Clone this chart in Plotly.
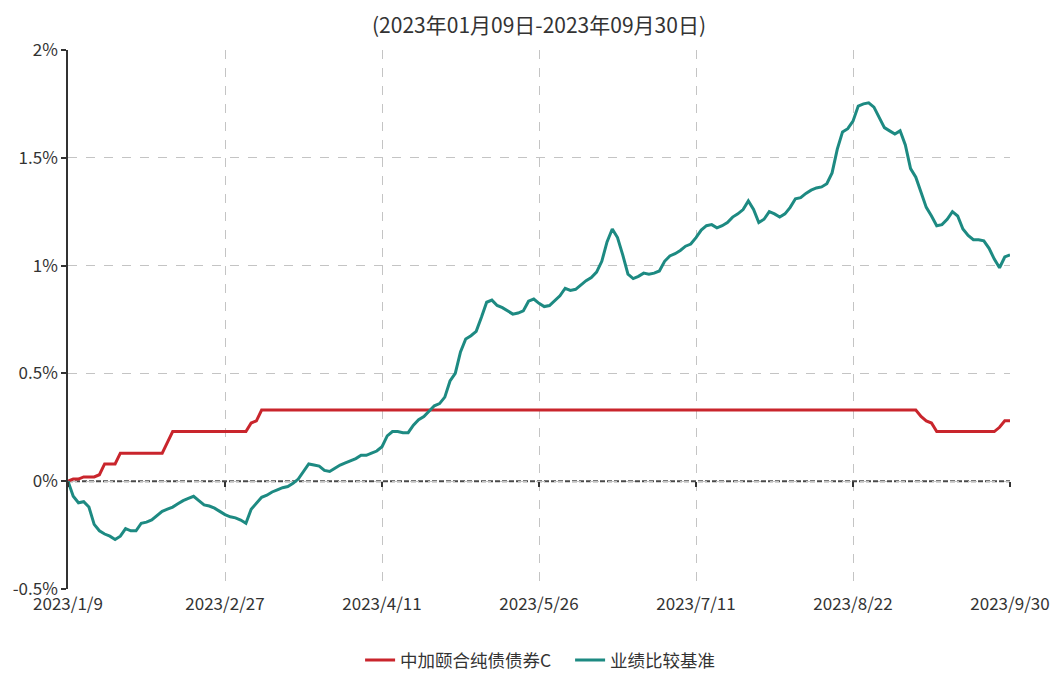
import plotly.graph_objects as go

title_text = "(2023年01月09日-2023年09月30日)"
tick_labels = ["2023/1/9", "2023/2/27", "2023/4/11", "2023/5/26", "2023/7/11", "2023/8/22", "2023/9/30"]
tick_index = [0, 30, 60, 90, 120, 150, 180]
y_ticks = [-0.5, 0, 0.5, 1, 1.5, 2]
y_tick_text = ["-0.5%", "0%", "0.5%", "1%", "1.5%", "2%"]

fund_name = "中加颐合纯债债券C"
bench_name = "业绩比较基准"

fund_values = [
    0.00, 0.01, 0.01, 0.02, 0.02, 0.02, 0.03, 0.08, 0.08, 0.08,
    0.13, 0.13, 0.13, 0.13, 0.13, 0.13, 0.13, 0.13, 0.13, 0.18,
    0.23, 0.23, 0.23, 0.23, 0.23, 0.23, 0.23, 0.23, 0.23, 0.23,
    0.23, 0.23, 0.23, 0.23, 0.23, 0.27, 0.28, 0.33, 0.33, 0.33,
    0.33, 0.33, 0.33, 0.33, 0.33, 0.33, 0.33, 0.33, 0.33, 0.33,
    0.33, 0.33, 0.33, 0.33, 0.33, 0.33, 0.33, 0.33, 0.33, 0.33,
    0.33, 0.33, 0.33, 0.33, 0.33, 0.33, 0.33, 0.33, 0.33, 0.33,
    0.33, 0.33, 0.33, 0.33, 0.33, 0.33, 0.33, 0.33, 0.33, 0.33,
    0.33, 0.33, 0.33, 0.33, 0.33, 0.33, 0.33, 0.33, 0.33, 0.33,
    0.33, 0.33, 0.33, 0.33, 0.33, 0.33, 0.33, 0.33, 0.33, 0.33,
    0.33, 0.33, 0.33, 0.33, 0.33, 0.33, 0.33, 0.33, 0.33, 0.33,
    0.33, 0.33, 0.33, 0.33, 0.33, 0.33, 0.33, 0.33, 0.33, 0.33,
    0.33, 0.33, 0.33, 0.33, 0.33, 0.33, 0.33, 0.33, 0.33, 0.33,
    0.33, 0.33, 0.33, 0.33, 0.33, 0.33, 0.33, 0.33, 0.33, 0.33,
    0.33, 0.33, 0.33, 0.33, 0.33, 0.33, 0.33, 0.33, 0.33, 0.33,
    0.33, 0.33, 0.33, 0.33, 0.33, 0.33, 0.33, 0.33, 0.33, 0.33,
    0.33, 0.33, 0.33, 0.30, 0.28, 0.27, 0.23, 0.23, 0.23, 0.23,
    0.23, 0.23, 0.23, 0.23, 0.23, 0.23, 0.23, 0.23, 0.25, 0.28,
    0.28,
]

bench_values = [
    0.00, -0.07, -0.10, -0.095, -0.12, -0.20, -0.23, -0.245, -0.255, -0.27,
    -0.255, -0.22, -0.23, -0.23, -0.195, -0.19, -0.18, -0.16, -0.14, -0.13,
    -0.12, -0.105, -0.09, -0.08, -0.07, -0.09, -0.11, -0.115, -0.125, -0.14,
    -0.155, -0.165, -0.17, -0.18, -0.195, -0.13, -0.10, -0.075, -0.065, -0.05,
    -0.04, -0.03, -0.025, -0.01, 0.01, 0.045, 0.08, 0.075, 0.07, 0.05,
    0.045, 0.06, 0.075, 0.085, 0.095, 0.105, 0.12, 0.12, 0.13, 0.14,
    0.16, 0.21, 0.23, 0.23, 0.225, 0.225, 0.26, 0.285, 0.30, 0.325,
    0.35, 0.36, 0.39, 0.465, 0.50, 0.60, 0.66, 0.675, 0.695, 0.76,
    0.83, 0.84, 0.815, 0.805, 0.79, 0.775, 0.78, 0.79, 0.835, 0.845,
    0.825, 0.81, 0.815, 0.84, 0.86, 0.895, 0.885, 0.89, 0.91, 0.93,
    0.945, 0.97, 1.02, 1.11, 1.17, 1.13, 1.05, 0.96, 0.94, 0.95,
    0.965, 0.96, 0.965, 0.975, 1.02, 1.045, 1.055, 1.07, 1.09, 1.10,
    1.13, 1.165, 1.185, 1.19, 1.175, 1.185, 1.20, 1.225, 1.24, 1.26,
    1.30, 1.26, 1.20, 1.215, 1.25, 1.24, 1.225, 1.24, 1.27, 1.31,
    1.315, 1.335, 1.35, 1.36, 1.365, 1.38, 1.43, 1.54, 1.62, 1.635,
    1.67, 1.74, 1.75, 1.755, 1.735, 1.69, 1.64, 1.625, 1.61, 1.625,
    1.56, 1.45, 1.41, 1.34, 1.27, 1.23, 1.185, 1.19, 1.215, 1.25,
    1.23, 1.17, 1.14, 1.12, 1.12, 1.115, 1.08, 1.03, 0.99, 1.04,
    1.05,
]

fund_color = "#c9252c"
bench_color = "#1d8a82"
font_family = "Noto Sans CJK SC, Noto Sans, sans-serif"
text_color = "#333333"

fig = go.Figure()
fig.add_trace(go.Scatter(
    x=list(range(len(fund_values))), y=fund_values, mode="lines", name=fund_name,
    line=dict(color=fund_color, width=3),
))
fig.add_trace(go.Scatter(
    x=list(range(len(bench_values))), y=bench_values, mode="lines", name=bench_name,
    line=dict(color=bench_color, width=3),
))
# empty helper trace so the tick-only axis on the zero line is drawn
fig.add_trace(go.Scatter(x=[], y=[], xaxis="x2", yaxis="y", showlegend=False,
                         hoverinfo="skip"))

fig.add_shape(type="line", xref="paper", x0=0, x1=1, yref="y", y0=0, y1=0,
              line=dict(color="#4a4a4a", width=2, dash="5px,2px"), layer="below")

fig.update_layout(
    width=1057, height=680,
    margin=dict(l=68, r=47, t=50, b=91, autoexpand=False),
    paper_bgcolor="white", plot_bgcolor="white",
    font=dict(family=font_family, color=text_color, size=16),
    title=dict(text=title_text, x=0.5, xref="paper", xanchor="center",
               y=0.963, yref="container", yanchor="middle",
               font=dict(size=21, color=text_color, family=font_family)),
    showlegend=True,
    legend=dict(orientation="h", x=0.533, xanchor="center", xref="paper",
                y=-0.132, yanchor="middle", font=dict(size=17.5, color=text_color),
                entrywidth=165, entrywidthmode="pixels"),
    xaxis=dict(
        range=[0, len(bench_values) - 1], tickvals=tick_index, ticktext=tick_labels,
        showgrid=True, gridcolor="#c4c4c4", griddash="dash", gridwidth=1,
        zeroline=False, showline=False, ticks="", automargin=False,
        tickfont=dict(size=17, color=text_color), ticklabelstandoff=3,
    ),
    xaxis2=dict(
        range=[0, len(bench_values) - 1], tickvals=tick_index, overlaying="x",
        anchor="free", position=0.2, showticklabels=False, showgrid=False,
        zeroline=False, showline=False, ticks="outside", ticklen=5,
        tickcolor="#333333", tickwidth=1.5, automargin=False,
    ),
    yaxis=dict(
        range=[-0.5, 2], tickvals=y_ticks, ticktext=y_tick_text,
        showgrid=True, gridcolor="#c4c4c4", griddash="dash", gridwidth=1,
        zeroline=False, showline=True, linecolor="#333333", linewidth=1.5,
        ticks="outside", ticklen=5, tickcolor="#333333", tickwidth=1.5,
        automargin=False, tickfont=dict(size=17, color=text_color),
    ),
)

fig.write_html("out.html", config={"displayModeBar": False},
               post_script="document.body.style.margin='0px';")
